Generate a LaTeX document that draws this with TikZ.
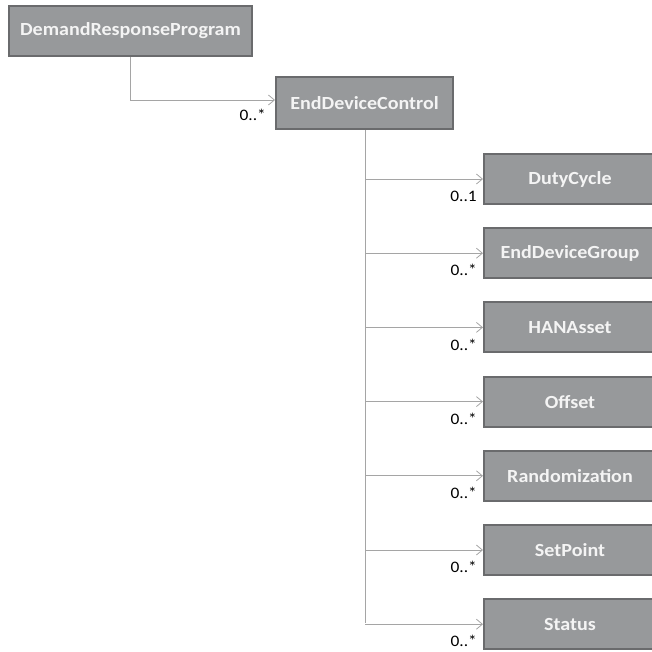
\documentclass[tikz,border=0pt]{standalone}
\usepackage{fontspec}
\setmainfont{Carlito}[FakeStretch=1.085]
\usetikzlibrary{arrows.meta}
\definecolor{boxfill}{HTML}{97999B}
\definecolor{boxline}{HTML}{6A6B6D}
\definecolor{linkline}{HTML}{A5A5A5}
\definecolor{boxtext}{HTML}{F4F4F4}
\tikzset{
  cls/.style={draw=boxline, line width=2pt, fill=boxfill, text=boxtext,
    font=\fontsize{18.5}{21}\selectfont\bfseries, inner sep=0pt, anchor=north west},
  link/.style={draw=linkline, line width=0.9pt, -{Straight Barb[length=6pt,width=10pt,line width=0.8pt]}},
  mult/.style={font=\fontsize{16}{18}\selectfont, text=black, inner sep=0pt, anchor=east}
}
\begin{document}
\begin{tikzpicture}[x=1pt,y=-1pt]
\useasboundingbox (0,0) rectangle (652,651);
% classes
\node[cls, minimum width=243pt, minimum height=50pt] (drp) at (8,5) {DemandResponseProgram};
\node[cls, minimum width=177pt, minimum height=52pt] (edc) at (275,76) {EndDeviceControl};
\foreach \nm/\txt [count=\i from 0] in {dc/DutyCycle, edg/EndDeviceGroup, han/HANAsset, off/Offset, rnd/Randomization, sp/SetPoint, st/Status}{
  \node[cls, minimum width=190pt, minimum height=50pt] (\nm) at (483,153+74.2*\i) {\hspace*{-18pt}\txt};
}
% trunk coordinates
\coordinate (bend) at (130,100);
\coordinate (trunk) at (365,623);
% program to control
\draw[link] (drp.south -| bend) -- (bend) -- (edc.west |- bend);
\node[mult] (m0) at (266,115) {0..*};
% control to parts
\draw[draw=linkline, line width=0.9pt] (edc.south -| trunk) -- (trunk);
\foreach \nm/\lb in {dc/0..1, edg/0..*, han/0..*, off/0..*, rnd/0..*, sp/0..*, st/0..*}{
  \draw[link] (\nm.west -| trunk) -- (\nm.west);
  \node[mult] (m\nm) at ([xshift=-6pt,yshift=-17pt]\nm.west) {\lb};
}
\end{tikzpicture}
\end{document}
